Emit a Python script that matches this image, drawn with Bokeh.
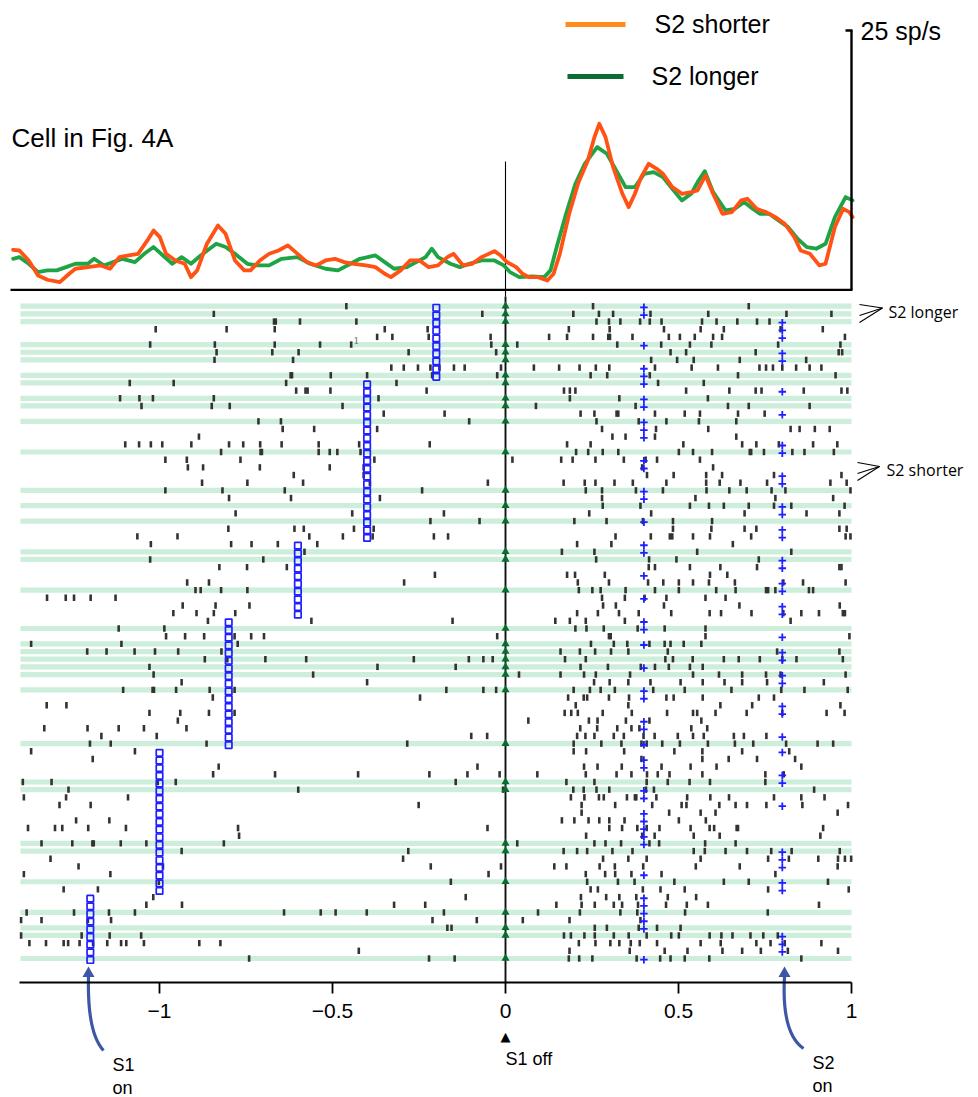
from bokeh.plotting import figure
from bokeh.models import Range1d, LinearAxis, FixedTicker
from bokeh.embed import file_html
from bokeh.resources import INLINE
from bokeh.core.properties import value

# ---------------- data ----------------
# PSTH, S2 shorter (time s, rate sp/s)
short_t = [-1.423, -1.405, -1.378, -1.351, -1.324, -1.288, -1.261, -1.243, -1.207, -1.170, -1.143, -1.116,
           -1.089, -1.062, -1.035, -1.017, -0.999, -0.981, -0.954, -0.927, -0.909, -0.891, -0.863, -0.831,
           -0.809, -0.782, -0.755, -0.737, -0.710, -0.683, -0.656, -0.629, -0.601, -0.574, -0.547, -0.520,
           -0.493, -0.466, -0.439, -0.403, -0.376, -0.349, -0.331, -0.303, -0.276, -0.249, -0.222, -0.195,
           -0.168, -0.150, -0.123, -0.096, -0.069, -0.032, -0.014, 0.004, 0.031, 0.049, 0.067, 0.094, 0.121,
           0.139, 0.157, 0.184, 0.211, 0.238, 0.257, 0.271, 0.289, 0.311, 0.338, 0.356, 0.374, 0.392, 0.414,
           0.437, 0.455, 0.482, 0.510, 0.537, 0.555, 0.578, 0.600, 0.627, 0.654, 0.681, 0.699, 0.726, 0.753,
           0.780, 0.807, 0.835, 0.853, 0.880, 0.907, 0.925, 0.952, 0.976, 0.994, 1.003]
short_rate = [3.86, 3.79, 2.83, 1.38, 0.97, 0.74, 1.55, 2.03, 2.19, 2.35, 2.03, 3.15,
              3.31, 3.47, 4.76, 5.72, 5.08, 3.47, 2.83, 2.51, 1.22, 1.87, 4.44, 6.21,
              5.40, 2.83, 1.87, 1.87, 2.83, 3.47, 3.79, 4.28, 3.47, 2.67, 2.35, 2.83,
              2.99, 2.67, 2.51, 2.35, 2.19, 1.55, 1.22, 1.87, 2.83, 2.83, 2.19, 2.35,
              3.15, 3.47, 2.35, 2.51, 3.15, 3.73, 3.31, 2.67, 2.19, 1.55, 1.22, 1.22, 0.90,
              1.55, 3.47, 7.33, 10.38, 12.47, 14.72, 16.01, 14.72, 11.83, 9.26, 7.97, 9.26, 10.87, 12.15,
              11.67, 11.19, 9.90, 9.26, 9.42, 9.58, 11.03, 9.26, 7.33, 7.49, 8.62, 8.78, 7.81, 7.49,
              7.01, 6.37, 5.08, 3.79, 3.47, 2.35, 2.51, 6.05, 7.81, 7.49, 7.01]
# PSTH, S2 longer
long_t = [-1.423, -1.405, -1.378, -1.351, -1.324, -1.297, -1.270, -1.243, -1.207, -1.189, -1.161, -1.134,
          -1.107, -1.071, -1.044, -1.017, -0.990, -0.963, -0.936, -0.909, -0.881, -0.836, -0.809, -0.782,
          -0.746, -0.719, -0.683, -0.647, -0.601, -0.565, -0.520, -0.484, -0.448, -0.421, -0.376, -0.349,
          -0.322, -0.285, -0.258, -0.231, -0.213, -0.195, -0.159, -0.132, -0.105, -0.069, -0.032, -0.005,
          0.013, 0.040, 0.076, 0.112, 0.130, 0.148, 0.175, 0.202, 0.229, 0.265, 0.293, 0.320, 0.347,
          0.374, 0.401, 0.428, 0.455, 0.482, 0.510, 0.537, 0.558, 0.576, 0.600, 0.636, 0.663, 0.690,
          0.708, 0.735, 0.762, 0.789, 0.817, 0.844, 0.871, 0.898, 0.925, 0.952, 0.983, 1.003]
long_rate = [2.99, 3.15, 2.51, 1.71, 1.87, 1.87, 2.19, 2.51, 2.51, 2.99, 2.35, 2.67,
             2.99, 2.67, 3.47, 4.12, 3.31, 2.51, 3.15, 2.51, 3.31, 4.44, 4.12, 3.47,
             2.51, 2.35, 2.35, 2.99, 3.15, 2.51, 2.03, 1.87, 2.51, 2.99, 3.31, 2.67,
             2.03, 2.19, 2.67, 3.15, 3.96, 3.15, 2.51, 2.19, 2.51, 2.83, 2.83, 2.35,
             1.71, 1.22, 1.29, 1.22, 1.87, 4.12, 7.33, 10.22, 12.15, 13.76, 13.12, 11.51, 9.90,
             9.90, 11.19, 11.35, 10.87, 9.74, 8.62, 9.26, 10.54, 11.44, 9.42, 7.65, 7.81, 8.46,
             7.97, 7.33, 7.33, 6.69, 6.05, 4.92, 4.12, 3.96, 4.44, 7.01, 8.94, 8.62]

# trials: S1 durations (s) and number of trials for each
s1_durations = [0.2, 0.4, 0.6, 0.8, 1.0, 1.2]
s1_trial_counts = [10, 21, 10, 17, 19, 9]
# S2 onset for each trial (s after S1 off)
s2_onset = [0.4, 0.4, 0.8, 0.8, 0.8, 0.4, 0.8, 0.8, 0.4, 0.4, 0.4, 0.8, 0.4, 0.4, 0.8, 0.4, 0.4, 0.4, 0.8, 0.8,
            0.4, 0.4, 0.8, 0.8, 0.4, 0.4, 0.8, 0.8,
            0.4, 0.8, 0.8, 0.4, 0.4, 0.8, 0.8, 0.4, 0.8, 0.8, 0.4, 0.8, 0.8, 0.4, 0.4, 0.8, 0.4, 0.8, 0.8, 0.4,
            0.8, 0.8, 0.4, 0.4, 0.8, 0.8, 0.4, 0.4, 0.8,
            0.4, 0.8, 0.4, 0.4, 0.8, 0.8, 0.4, 0.4, 0.8, 0.4, 0.4, 0.4, 0.4, 0.4, 0.8, 0.8, 0.8, 0.4, 0.8, 0.8,
            0.4, 0.4, 0.4, 0.4, 0.4, 0.8, 0.8, 0.8, 0.4]
# trials in which S2 was longer (shaded rows)
s2_longer_trials = [0, 1, 2, 5, 6, 7, 9, 10, 12, 13, 15, 19, 24, 26, 28, 32, 33, 37, 42, 44, 45, 46, 47, 48,
                    50, 57, 62, 63, 70, 71, 75, 79, 81, 82, 85]
# spike times per trial (s, aligned to S1 off)
spike_times = [
    [-0.460, 0.253, 0.703],
    [-0.843, -0.067, 0.196, 0.270, 0.311, 0.419, 0.586, 0.812, 0.942],
    [-0.669, -0.664, -0.594, -0.431, 0.263, 0.299, 0.332, 0.389, 0.417, 0.451, 0.568, 0.610, 0.670, 0.727, 0.763],
    [-1.011, -0.806, -0.667, -0.349, -0.225, 0.183, 0.301, 0.458, 0.564, 0.631, 0.795, 0.917],
    [-0.371, -0.327, -0.222, -0.043, 0.126, 0.178, 0.253, 0.297, 0.302, 0.367, 0.472, 0.504, 0.547, 0.600, 0.626, 0.981],
    [-1.027, -0.840, -0.667, -0.536, -0.446, -0.041, 0.034, 0.323, 0.450, 0.533, 0.595, 0.788, 0.968],
    [-0.835, -0.674, -0.598, -0.280, -0.027, 0.477, 0.522, 0.723, 0.963, 0.973],
    [-0.841, -0.614, 0.421, 0.496, 0.544, 0.677, 0.869],
    [-0.330, -0.294, -0.253, -0.217, -0.191, -0.149, -0.118, -0.013, 0.082, 0.155, 0.214, 0.261, 0.300, 0.432,
     0.538, 0.614, 0.734, 0.753, 0.773, 0.800, 0.840, 0.879, 0.913],
    [-0.621, -0.617, -0.505, -0.400, -0.212, -0.024, 0.246, 0.294, 0.417, 0.672, 0.954],
    [-1.086, -0.959, -0.634, -0.315, 0.441, 0.573],
    [-0.605, -0.578, -0.572, -0.506, -0.228, 0.169, 0.186, 0.202, 0.522, 0.647, 0.723, 0.740, 0.862, 0.971, 0.988],
    [-1.114, -1.058, -1.019, -0.843, -0.367, 0.186, 0.329, 0.585],
    [-1.052, -0.849, -0.797, -0.471, 0.088, 0.376, 0.643, 0.703, 0.879],
    [-0.352, -0.176, 0.217, 0.257, 0.321, 0.326, 0.432, 0.518, 0.562, 0.672, 0.749],
    [-0.714, -0.649, -0.105, 0.263, 0.385, 0.465, 0.559, 0.667],
    [-0.644, -0.553, -0.371, 0.279, 0.435, 0.586, 0.824, 0.850, 0.894, 0.937],
    [-0.886, 0.309, 0.347, 0.432, 0.667],
    [-1.099, -1.059, -1.025, -0.992, -0.908, -0.799, -0.758, -0.709, -0.647, -0.540, -0.423, -0.219, 0.178,
     0.246, 0.514, 0.684, 0.725, 0.790, 0.889, 0.959],
    [-0.822, -0.708, -0.704, -0.540, -0.508, -0.486, -0.419, 0.204, 0.239, 0.281, 0.326, 0.501, 0.542, 0.597,
     0.706, 0.710, 0.747, 0.829, 0.864, 0.949],
    [-0.983, -0.921, -0.766, -0.379, 0.020, 0.161, 0.194, 0.260, 0.342, 0.405, 0.438, 0.562],
    [-0.918, -0.874, -0.710, -0.508, -0.410, 0.395, 0.600],
    [-0.612, -0.410, 0.409, 0.486, 0.580, 0.626, 0.776, 0.971],
    [-0.877, -0.746, -0.585, -0.392, -0.051, 0.168, 0.229, 0.260, 0.315, 0.368, 0.465, 0.580, 0.619, 0.679,
     0.756, 0.939, 0.986],
    [-0.983, -0.818, -0.638, -0.241, 0.232, 0.279, 0.377, 0.455, 0.581, 0.647, 0.697, 0.769, 0.809, 0.997],
    [-0.799, -0.620, -0.363, 0.279, 0.549, 0.780, 0.947],
    [0.281, 0.390, 0.533, 0.588, 0.631, 0.703, 0.776, 0.826, 0.980],
    [-0.780, -0.443, -0.178, 0.242, 0.421, 0.691, 0.870, 0.965],
    [-0.217, -0.075, 0.199, 0.292, 0.397, 0.484, 0.597],
    [-0.801, -0.610, -0.583, -0.438, -0.381, 0.484, 0.595, 0.691, 0.725, 0.965, 0.986],
    [-1.064, -0.948, -0.567, -0.470, -0.384, -0.207, -0.166, 0.318, 0.420, 0.475, 0.482, 0.542, 0.591, 0.710,
     0.983, 0.997],
    [-1.025, -0.793, -0.734, -0.658, -0.544, 0.207, 0.306, 0.657],
    [-0.581, 0.163, 0.257, 0.554, 0.826],
    [-1.027, -0.700, 0.262, 0.415, 0.494, 0.732],
    [-0.827, -0.747, -0.632, 0.414, 0.432, 0.533, 0.621, 0.727, 0.965, 0.971],
    [-0.204, 0.178, 0.201, 0.287, 0.591, 0.641],
    [-0.920, -0.857, -0.293, 0.209, 0.299, 0.412, 0.456, 0.501, 0.542, 0.588, 0.663, 0.803, 0.860, 0.983],
    [-0.896, -0.881, -0.822, -0.746, 0.212, 0.251, 0.275, 0.347, 0.432, 0.501, 0.609, 0.665, 0.753, 0.759,
     0.780, 0.877, 0.889],
    [-1.325, -1.271, -1.247, -1.199, -1.127, 0.279, 0.345, 0.402, 0.465, 0.578, 0.636],
    [-0.933, -0.838, -0.740, 0.282, 0.319, 0.458, 0.676, 0.966],
    [-0.960, -0.893, -0.843, -0.781, 0.207, 0.267, 0.328, 0.385, 0.479, 0.590, 0.623, 0.711, 0.803, 0.855,
     0.906, 0.975, 0.981],
    [-0.860, -0.561, -0.153, 0.144, 0.186, 0.232, 0.345, 0.824],
    [-1.118, -0.986, 0.202, 0.234, 0.284, 0.382, 0.460, 0.578],
    [-0.981, -0.926, -0.871, -0.783, -0.735, -0.698, -0.024, 0.299, 0.304, 0.578, 0.994],
    [-1.371, -1.110, -0.774, 0.247, 0.313, 0.352, 0.416, 0.460, 0.477, 0.515, 0.566],
    [-1.209, -1.153, -1.072, -1.013, -0.946, -0.821, 0.159, 0.215, 0.259, 0.305, 0.355, 0.469, 0.785, 0.965],
    [-0.869, -0.804, -0.694, -0.576, -0.265, -0.106, -0.064, -0.037, 0.172, 0.232, 0.462, 0.484, 0.541, 0.631,
     0.674, 0.735, 0.800, 0.841, 0.975],
    [-1.029, -0.370, -0.144, 0.217, 0.296, 0.391, 0.432, 0.472, 0.533, 0.570],
    [-1.017, -0.556, 0.039, 0.159, 0.227, 0.261, 0.360, 0.542, 0.617, 0.684, 0.753, 0.795, 0.983],
    [-0.936, -0.400, 0.256, 0.301, 0.355, 0.419, 0.506, 0.570, 0.633, 0.684, 0.756, 0.920],
    [-1.105, -1.020, -1.016, -0.952, -0.855, -0.783, -0.171, -0.064, -0.027, 0.197, 0.244, 0.275, 0.316,
     0.427, 0.518, 0.653, 0.797, 0.864, 0.989],
    [-0.846, -0.247, 0.181, 0.226, 0.236, 0.299, 0.357, 0.465, 0.486, 0.570, 0.732, 0.776],
    [-1.326, -1.269, 0.203, 0.355, 0.621, 0.713, 0.968],
    [-1.029, -0.940, -0.857, -0.783, 0.171, 0.190, 0.209, 0.281, 0.365, 0.467, 0.542, 0.554, 0.607, 0.697,
     0.800, 0.928, 0.980],
    [-0.947, 0.066, 0.241, 0.266, 0.348, 0.416, 0.566],
    [-1.333, -1.208, -1.118, -1.045, -0.922, 0.216, 0.265, 0.323, 0.364, 0.387, 0.537, 0.583],
    [-1.168, -1.008, -0.099, -0.053, 0.207, 0.231, 0.257, 0.313, 0.342, 0.399, 0.431, 0.498, 0.542, 0.573,
     0.660, 0.689, 0.754],
    [-1.201, -1.141, -0.864, -0.284, 0.197, 0.277, 0.335, 0.393, 0.408, 0.453, 0.504, 0.585, 0.663, 0.716,
     0.811, 0.902, 0.947],
    [-1.371, -1.071, 0.197, 0.233, 0.343, 0.488, 0.569, 0.684, 0.820],
    [-1.193, 0.393, 0.569, 0.645, 0.727, 0.837],
    [-0.829, -0.081, 0.227, 0.266, 0.336, 0.451, 0.535, 0.610, 0.855],
    [-0.845, -0.666, -0.426, -0.220, -0.110, -0.017, 0.092, 0.232, 0.321, 0.364, 0.409, 0.440, 0.474, 0.569,
     0.751, 0.804],
    [-1.395, -1.312, -1.005, -0.953, -0.144, 0.176, 0.257, 0.408, 0.469, 0.532, 0.591, 0.751],
    [-1.263, -0.599, -0.007, 0.196, 0.226, 0.263, 0.300, 0.406, 0.429, 0.892],
    [-1.392, -1.270, -1.091, 0.189, 0.228, 0.270, 0.284, 0.351, 0.374, 0.378, 0.436, 0.525, 0.592, 0.646,
     0.776, 0.855, 0.922],
    [-1.289, -1.199, -0.251, 0.220, 0.317, 0.424, 0.509, 0.523, 0.618, 0.665, 0.698, 0.754, 0.858, 0.990],
    [0.220, 0.473, 0.564, 0.607, 0.960],
    [-1.241, -1.145, 0.163, 0.199, 0.240, 0.271, 0.300, 0.344, 0.501, 0.579],
    [-1.380, -1.302, -1.281, -1.206, -1.097, -0.773, -0.052, 0.300, 0.337, 0.381, 0.408, 0.445, 0.535, 0.590,
     0.603, 0.668, 0.672, 0.918],
    [-0.770, 0.233, 0.395, 0.431, 0.544, 0.619, 0.910],
    [-1.341, -1.252, -1.194, -1.190, -1.112, -1.038, -0.814, 0.034, 0.257, 0.289, 0.334, 0.416, 0.444, 0.577,
     0.665],
    [-0.936, -0.281, 0.168, 0.207, 0.236, 0.309, 0.367, 0.544, 0.576, 0.636, 0.698, 0.768, 0.827, 0.966],
    [-1.315, -0.296, 0.282, 0.355, 0.408, 0.564, 0.759, 0.819, 0.904, 0.961, 0.981, 0.999],
    [-1.234, -0.990, -0.216, -0.013, 0.141, 0.176, 0.272, 0.316, 0.398, 0.550, 0.677, 0.960],
    [-1.392, -1.142, -0.049, 0.232, 0.288, 0.317, 0.364, 0.451, 0.780],
    [-1.002, -0.158, 0.236, 0.325, 0.373, 0.488, 0.631, 0.703, 0.932],
    [-1.277, -1.178, 0.246, 0.267, 0.397, 0.448, 0.518, 0.759, 0.992],
    [-1.018, -0.115, 0.218, 0.291, 0.329, 0.378, 0.469, 0.551],
    [-1.038, -0.935, -0.322, -0.232, 0.147, 0.220, 0.258, 0.313, 0.337, 0.383, 0.464, 0.524, 0.585, 0.906],
    [-1.384, -1.247, -1.146, -1.071, -0.640, -0.534, -0.491, -0.401, -0.178, 0.094, 0.215, 0.332, 0.381,
     0.519, 0.758],
    [-1.400, -1.341, -1.207, -1.140, -0.211, -0.083, 0.050, 0.185, 0.390],
    [-0.168, -0.156, 0.258, 0.293, 0.385, 0.438, 0.506],
    [-1.400, -1.225, -1.144, -1.053, 0.169, 0.189, 0.228, 0.258, 0.313, 0.356, 0.408, 0.479, 0.501, 0.590,
     0.624, 0.656, 0.708, 0.745, 0.787],
    [-1.376, -1.328, -1.277, -1.264, -1.231, -1.192, -1.151, -1.111, -1.096, -1.045, -0.885, -0.824, 0.212,
     0.260, 0.303, 0.329, 0.362, 0.388, 0.438, 0.564, 0.622, 0.725, 0.766, 0.807, 0.913],
    [-0.424, 0.185, 0.359, 0.460, 0.526, 0.627, 0.684, 0.738, 0.816, 0.961],
    [-0.741, -0.221, -0.147, 0.183, 0.213, 0.251, 0.379, 0.447, 0.477, 0.518, 0.589, 0.855],
]
tick_values = [-1, -0.5, 0, 0.5, 1]
tick_labels = ["\u22121", "\u22120.5", "0", "0.5", "1"]
scale_bar_rate = 25

# ---------------- layout helpers (pixel -> data) ----------------
W, H = 978, 1097
X0, XS = 505.0, 346.0          # px of t=0, px per second
R0, RH = 305.7, 7.674          # px of first trial row, px per row
B0, BS = 289.3, 10.37          # px of 0 sp/s, px per sp/s


def tx(px):
    return (px - X0) / XS


def ry(py):
    return (py - R0) / RH


def qy(py):
    return (B0 - py) / BS


NARROW = "Liberation Sans Narrow, Liberation Sans, sans-serif"
BLUE = "#1f1fff"
ARROW = "#3d57a6"

p = figure(width=W, height=H, output_backend="svg", toolbar_location=None,
           x_range=Range1d(tx(0), tx(W)), y_range=Range1d(ry(H), ry(0)),
           x_axis_location=None, y_axis_location=None, min_border=0)
p.extra_y_ranges = {"rate": Range1d(qy(H), qy(0))}
p.outline_line_color = None
p.xgrid.visible = False
p.ygrid.visible = False
p.background_fill_color = "white"

n_trials = len(spike_times)
s1_onset = []
for d, c in zip(s1_durations, s1_trial_counts):
    s1_onset += [-d] * c

# shaded rows (S2 longer)
p.hbar(y=s2_longer_trials, left=-1.402, right=1.0, height=0.68, color="#cdeedb", line_color=None)

# spikes
sx, sy = [], []
for i, row in enumerate(spike_times):
    sx += row
    sy += [i] * len(row)
p.rect(x=sx, y=sy, width=2.6, width_units="screen", height=6.4, height_units="screen",
       color="#333333", line_color=None)

# vertical line at S1 off
p.segment(x0=[0], y0=[qy(161)], x1=[0], y1=[qy(296)], y_range_name="rate", line_color="black", line_width=1.1)
p.segment(x0=[0], y0=[ry(296)], x1=[0], y1=[ry(982)], line_color="#111111", line_width=1.9)

# S1 off markers on S2-longer trials
p.scatter(x=[0] * len(s2_longer_trials), y=s2_longer_trials, marker="triangle", size=8,
          color="#0a6b2f", line_color=None)
# S1 onset markers
p.scatter(x=s1_onset, y=[i + 0.2 for i in range(n_trials)], marker="square", size=6.5,
          fill_color=None, line_color=BLUE, line_width=1.7)
# S2 onset markers
p.scatter(x=s2_onset, y=[i + 0.15 for i in range(n_trials)], marker="cross", size=7.5,
          line_color=BLUE, line_width=1.8)

# PSTH
p.line(long_t, long_rate, y_range_name="rate", line_color="#1ea444", line_width=3.8, line_join="round",
       line_cap="round")
p.line(short_t, short_rate, y_range_name="rate", line_color="#ff5214", line_width=3.8, line_join="round",
       line_cap="round")
# PSTH base line and scale bar
p.segment(x0=[tx(10)], y0=[0], x1=[tx(852)], y1=[0], y_range_name="rate", line_color="black", line_width=2.2)
p.segment(x0=[tx(851)], y0=[0], x1=[tx(851)], y1=[scale_bar_rate], y_range_name="rate",
          line_color="black", line_width=2.4)
p.segment(x0=[tx(845)], y0=[scale_bar_rate], x1=[tx(852)], y1=[scale_bar_rate], y_range_name="rate",
          line_color="black", line_width=2.4)
p.text(x=[tx(860)], y=[scale_bar_rate], text=[f"{scale_bar_rate} sp/s"], y_range_name="rate",
       text_font=value(NARROW), text_font_size="25px", text_baseline="middle", text_align="left",
       text_color="black")

# legend
p.segment(x0=[tx(565)], y0=[ry(24)], x1=[tx(625)], y1=[ry(24)], line_color="#ff8c1a", line_width=5)
p.segment(x0=[tx(567)], y0=[ry(76)], x1=[tx(623)], y1=[ry(76)], line_color="#0b6b33", line_width=5)
p.text(x=[tx(654), tx(651)], y=[ry(23), ry(75)], text=["S2 shorter", "S2 longer"],
       text_font=value(NARROW), text_font_size="25px", text_baseline="middle", text_align="left",
       text_color="black")
p.text(x=[tx(11)], y=[ry(137)], text=["Cell in Fig. 4A"], text_font=value(NARROW), text_font_size="26px",
       text_baseline="middle", text_align="left", text_color="black")

# stray glyph
p.text(x=[tx(356)], y=[ry(340)], text=["1"], text_font=value("DejaVu Serif"), text_font_size="10px",
       text_baseline="middle", text_align="center", text_color="#777777")

# right-hand group labels with fan brackets
fan_x0 = [tx(859), tx(859), tx(859), tx(857), tx(857), tx(857)]
fan_y0 = [ry(304), ry(315), ry(322), ry(462), ry(473), ry(480)]
fan_x1 = [tx(882)] * 3 + [tx(879)] * 3
fan_y1 = [ry(307.5)] * 3 + [ry(466)] * 3
p.segment(x0=fan_x0, y0=fan_y0, x1=fan_x1, y1=fan_y1, line_color="black", line_width=1.1)
p.text(x=[tx(888), tx(886)], y=[ry(311), ry(469)], text=["S2 longer", "S2 shorter"],
       text_font=value("Open Sans"), text_font_size="16px", text_baseline="middle", text_align="left",
       text_color="black")

# bottom axis
ax = LinearAxis(fixed_location=ry(982), bounds=(-1.405, 1.0), ticker=FixedTicker(ticks=tick_values),
                major_label_overrides=dict(zip(tick_values, tick_labels)))
ax.major_tick_in = 0
ax.major_tick_out = 11
ax.minor_tick_line_color = None
ax.axis_line_width = 1.8
ax.major_tick_line_width = 1.8
ax.major_label_text_font = NARROW
ax.major_label_text_font_size = "21px"
ax.major_label_standoff = 10
ax.major_label_text_color = "black"
p.add_layout(ax, "below")

# event annotations below axis
p.text(x=[0], y=[ry(1036)], text=["\u25b2"], text_font=value("DejaVu Sans"), text_font_size="13px",
       text_baseline="middle", text_align="center", text_color="black")
p.text(x=[0, tx(112), tx(112), tx(812), tx(812)], y=[ry(1058), ry(1064), ry(1087), ry(1062), ry(1085)],
       text=["S1 off", "S1", "on", "S2", "on"], text_font=value(NARROW), text_font_size="18px",
       text_baseline="middle", text_align="left", text_color="black")

# curved arrows to S1 on / S2 on
p.bezier(x0=[tx(88), tx(784)], y0=[ry(976), ry(976)], x1=[tx(103), tx(803)], y1=[ry(1050), ry(1048)],
         cx0=[tx(87), tx(782)], cy0=[ry(1015), ry(1012)], cx1=[tx(92), tx(787)], cy1=[ry(1038), ry(1037)],
         line_color=ARROW, line_width=3.2)
p.scatter(x=[tx(88), tx(784)], y=[ry(973), ry(973)], marker="triangle", size=12, color=ARROW, line_color=None)

open("out.html", "w").write(file_html(p, INLINE))
